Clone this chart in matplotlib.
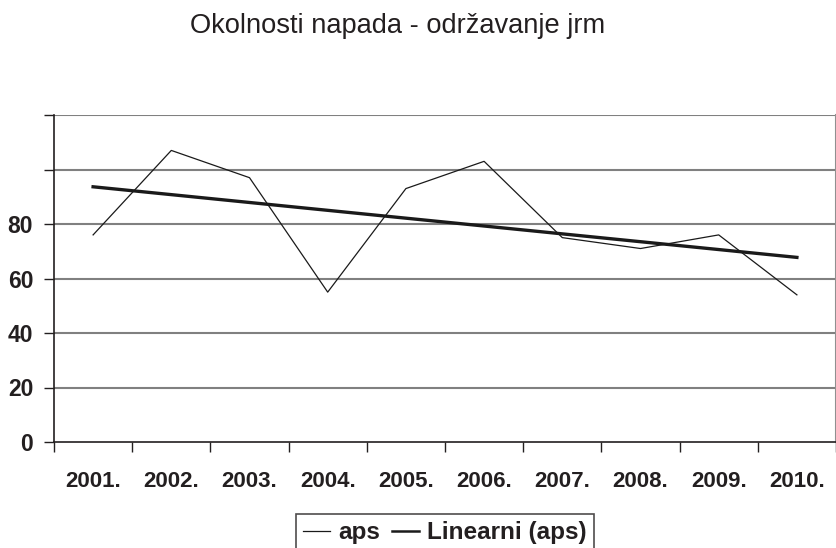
import numpy as np
import matplotlib
matplotlib.use("Agg")
import matplotlib.pyplot as plt
from matplotlib.lines import Line2D

plt.rcParams['font.family'] = ['Liberation Sans', 'DejaVu Sans']

title = "Okolnosti napada - održavanje jrm"
years = ["2001.", "2002.", "2003.", "2004.", "2005.", "2006.", "2007.", "2008.", "2009.", "2010."]
aps = [76, 107, 97, 55, 93, 103, 75, 71, 76, 54]
y_ticks = [0, 20, 40, 60, 80, 100, 120]
y_tick_labels = ["0", "20", "40", "60", "80", "", ""]
legend_labels = ["aps", "Linearni (aps)"]

fig = plt.figure(figsize=(8.37, 5.48), dpi=100)
ax = fig.add_axes([54/837, 1-442/548, (836-54)/837, (442-115)/548])

x = np.arange(len(years))
coef = np.polyfit(x, aps, 1)
trend = np.polyval(coef, x)

ax.set_xlim(-0.5, len(years) - 0.5)
ax.set_ylim(y_ticks[0], y_ticks[-1])
for yv in y_ticks[1:]:
    ax.axhline(yv, color='#808080', lw=1.5, zorder=1)

ax.plot(x, aps, color='#1a1a1a', lw=0.9, zorder=3)
ax.plot(x, trend, color='#1a1a1a', lw=2.4, zorder=3)

ax.set_yticks(y_ticks)
ax.set_yticklabels(y_tick_labels, fontsize=16.5, fontweight='bold', color='#231f20')
ax.set_xticks(np.arange(len(years) + 1) - 0.5, minor=False)
ax.set_xticklabels([])
ax.set_xticks(x, minor=True)
ax.set_xticklabels(years, minor=True, fontsize=16, fontweight='bold', color='#231f20')
ax.tick_params(axis='x', which='major', direction='out', length=7, width=1, color='#231f20')
ax.tick_params(axis='x', which='minor', length=0, pad=21)
ax.tick_params(axis='y', direction='out', length=7, width=1, color='#231f20', pad=8)

for s in ['left', 'bottom']:
    ax.spines[s].set_color('#231f20')
    ax.spines[s].set_linewidth(1.2)
ax.spines['top'].set_visible(False)
ax.spines['right'].set_color('#909090')
ax.spines['right'].set_linewidth(1.5)

fig.text(398/837, 1-33/548, title, ha='center', va='baseline', fontsize=19.6, color='#231f20')

handles = [Line2D([], [], color='#1a1a1a', lw=0.9), Line2D([], [], color='#1a1a1a', lw=1.8)]
leg = fig.legend(handles, legend_labels, loc='upper left', bbox_to_anchor=(296/837, 1-514/548),
                 ncol=2, frameon=True, fancybox=False, edgecolor='#231f20',
                 prop={'weight': 'bold', 'size': 17.5}, handlelength=1.1, handletextpad=0.33,
                 columnspacing=0.5, borderpad=0.3, borderaxespad=0)
leg.get_frame().set_linewidth(1.2)
for t in leg.get_texts():
    t.set_color('#231f20')

fig.savefig("out.png", dpi=100)
